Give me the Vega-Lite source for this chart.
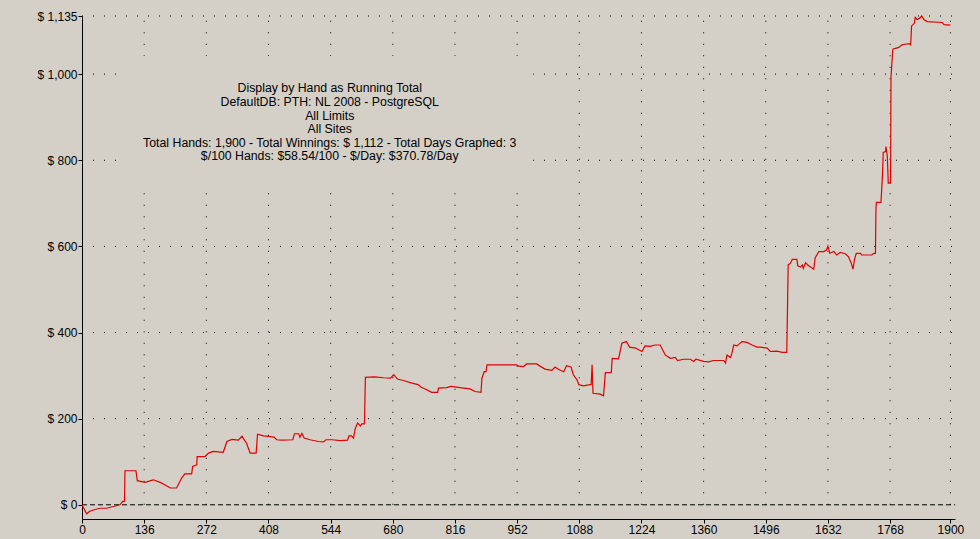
{
  "$schema": "https://vega.github.io/schema/vega-lite/v6.json",
  "autosize": {"type": "none"},
  "padding": {"left": 82, "top": 16, "right": 25, "bottom": 20},
  "width": 873,
  "height": 503,
  "background": "#D4D0C8",
  "config": {
    "view": {"stroke": null},
    "font": "Liberation Sans",
    "axis": {"labelFont": "Liberation Sans", "labelFontSize": 12, "labelColor": "#000000", "domainColor": "#000000", "tickColor": "#000000", "grid": false, "title": null}
  },
  "datasets": {
    "xticks": [{"hand": 136}, {"hand": 272}, {"hand": 408}, {"hand": 544}, {"hand": 680}, {"hand": 816}, {"hand": 952}, {"hand": 1088}, {"hand": 1224}, {"hand": 1360}, {"hand": 1496}, {"hand": 1632}, {"hand": 1768}, {"hand": 1900}],
    "yticks": [{"usd": 200}, {"usd": 400}, {"usd": 600}, {"usd": 800}, {"usd": 1000}, {"usd": 1135}],
    "series": [
      {"hand": 0, "usd": 0}, {"hand": 10, "usd": -21}, {"hand": 17, "usd": -15}, {"hand": 25, "usd": -12}, {"hand": 39, "usd": -8}, {"hand": 54, "usd": -8}, {"hand": 69, "usd": -4}, {"hand": 83, "usd": 0}, {"hand": 89, "usd": 8}, {"hand": 93, "usd": 8}, {"hand": 94, "usd": 79},
      {"hand": 118, "usd": 79}, {"hand": 121, "usd": 56}, {"hand": 138, "usd": 52}, {"hand": 156, "usd": 58}, {"hand": 171, "usd": 52}, {"hand": 182, "usd": 46}, {"hand": 193, "usd": 39}, {"hand": 207, "usd": 39}, {"hand": 218, "usd": 62}, {"hand": 225, "usd": 72}, {"hand": 240, "usd": 72}, {"hand": 242, "usd": 89}, {"hand": 251, "usd": 93}, {"hand": 252, "usd": 112}, {"hand": 269, "usd": 112}, {"hand": 277, "usd": 120}, {"hand": 287, "usd": 124}, {"hand": 309, "usd": 122}, {"hand": 317, "usd": 147}, {"hand": 328, "usd": 152}, {"hand": 342, "usd": 150}, {"hand": 350, "usd": 159}, {"hand": 360, "usd": 143}, {"hand": 368, "usd": 120}, {"hand": 381, "usd": 120}, {"hand": 384, "usd": 164}, {"hand": 397, "usd": 160}, {"hand": 408, "usd": 159}, {"hand": 420, "usd": 157}, {"hand": 426, "usd": 151}, {"hand": 437, "usd": 150}, {"hand": 461, "usd": 151}, {"hand": 465, "usd": 165}, {"hand": 474, "usd": 165}, {"hand": 477, "usd": 157}, {"hand": 481, "usd": 166}, {"hand": 486, "usd": 155}, {"hand": 499, "usd": 151}, {"hand": 517, "usd": 147}, {"hand": 528, "usd": 146}, {"hand": 534, "usd": 151}, {"hand": 547, "usd": 151}, {"hand": 565, "usd": 149}, {"hand": 581, "usd": 150}, {"hand": 584, "usd": 160}, {"hand": 590, "usd": 160}, {"hand": 594, "usd": 155}, {"hand": 598, "usd": 178}, {"hand": 603, "usd": 190}, {"hand": 609, "usd": 183}, {"hand": 612, "usd": 188}, {"hand": 618, "usd": 188},
      {"hand": 620, "usd": 296}, {"hand": 640, "usd": 297}, {"hand": 660, "usd": 295}, {"hand": 675, "usd": 294}, {"hand": 682, "usd": 302}, {"hand": 690, "usd": 292}, {"hand": 705, "usd": 288}, {"hand": 720, "usd": 283}, {"hand": 735, "usd": 279}, {"hand": 742, "usd": 273}, {"hand": 751, "usd": 269}, {"hand": 765, "usd": 261}, {"hand": 778, "usd": 261}, {"hand": 780, "usd": 271}, {"hand": 798, "usd": 272}, {"hand": 807, "usd": 275}, {"hand": 835, "usd": 271}, {"hand": 849, "usd": 269}, {"hand": 860, "usd": 263}, {"hand": 873, "usd": 261}, {"hand": 875, "usd": 294}, {"hand": 880, "usd": 309}, {"hand": 884, "usd": 309}, {"hand": 886, "usd": 325}, {"hand": 900, "usd": 325}, {"hand": 951, "usd": 325}, {"hand": 955, "usd": 322}, {"hand": 966, "usd": 321}, {"hand": 973, "usd": 327}, {"hand": 995, "usd": 327}, {"hand": 1002, "usd": 322}, {"hand": 1013, "usd": 315}, {"hand": 1028, "usd": 312}, {"hand": 1035, "usd": 320}, {"hand": 1043, "usd": 314}, {"hand": 1054, "usd": 309}, {"hand": 1060, "usd": 323}, {"hand": 1070, "usd": 320}, {"hand": 1075, "usd": 302}, {"hand": 1083, "usd": 290}, {"hand": 1087, "usd": 279}, {"hand": 1097, "usd": 276}, {"hand": 1112, "usd": 279}, {"hand": 1114, "usd": 279}, {"hand": 1116, "usd": 325}, {"hand": 1118, "usd": 259}, {"hand": 1134, "usd": 257}, {"hand": 1141, "usd": 253}, {"hand": 1145, "usd": 307}, {"hand": 1158, "usd": 307}, {"hand": 1160, "usd": 340}, {"hand": 1174, "usd": 339}, {"hand": 1181, "usd": 375}, {"hand": 1191, "usd": 379}, {"hand": 1198, "usd": 366}, {"hand": 1211, "usd": 364}, {"hand": 1225, "usd": 356}, {"hand": 1232, "usd": 369}, {"hand": 1243, "usd": 368}, {"hand": 1254, "usd": 371}, {"hand": 1265, "usd": 371}, {"hand": 1276, "usd": 348}, {"hand": 1287, "usd": 340}, {"hand": 1298, "usd": 342}, {"hand": 1303, "usd": 335}, {"hand": 1316, "usd": 338}, {"hand": 1331, "usd": 338}, {"hand": 1338, "usd": 333}, {"hand": 1343, "usd": 338}, {"hand": 1360, "usd": 333}, {"hand": 1371, "usd": 332}, {"hand": 1382, "usd": 335}, {"hand": 1404, "usd": 335}, {"hand": 1408, "usd": 329}, {"hand": 1411, "usd": 348}, {"hand": 1419, "usd": 342}, {"hand": 1422, "usd": 352}, {"hand": 1426, "usd": 371}, {"hand": 1433, "usd": 369}, {"hand": 1444, "usd": 379}, {"hand": 1455, "usd": 377}, {"hand": 1466, "usd": 371}, {"hand": 1477, "usd": 366}, {"hand": 1484, "usd": 366}, {"hand": 1499, "usd": 364}, {"hand": 1506, "usd": 356}, {"hand": 1520, "usd": 357}, {"hand": 1532, "usd": 354}, {"hand": 1542, "usd": 354},
      {"hand": 1545, "usd": 557}, {"hand": 1550, "usd": 561}, {"hand": 1554, "usd": 570}, {"hand": 1564, "usd": 570}, {"hand": 1566, "usd": 555}, {"hand": 1572, "usd": 552}, {"hand": 1576, "usd": 557}, {"hand": 1578, "usd": 549}, {"hand": 1583, "usd": 562}, {"hand": 1590, "usd": 555}, {"hand": 1601, "usd": 547}, {"hand": 1604, "usd": 573}, {"hand": 1612, "usd": 588}, {"hand": 1623, "usd": 588}, {"hand": 1629, "usd": 592}, {"hand": 1632, "usd": 601}, {"hand": 1636, "usd": 584}, {"hand": 1645, "usd": 588}, {"hand": 1651, "usd": 580}, {"hand": 1659, "usd": 586}, {"hand": 1670, "usd": 583}, {"hand": 1677, "usd": 576}, {"hand": 1683, "usd": 561}, {"hand": 1687, "usd": 547}, {"hand": 1690, "usd": 569}, {"hand": 1694, "usd": 584}, {"hand": 1703, "usd": 584}, {"hand": 1706, "usd": 580}, {"hand": 1728, "usd": 580}, {"hand": 1732, "usd": 584}, {"hand": 1736, "usd": 584},
      {"hand": 1737, "usd": 685}, {"hand": 1738, "usd": 702}, {"hand": 1748, "usd": 702}, {"hand": 1751, "usd": 758}, {"hand": 1753, "usd": 818}, {"hand": 1758, "usd": 820}, {"hand": 1759, "usd": 832}, {"hand": 1762, "usd": 808}, {"hand": 1764, "usd": 747}, {"hand": 1769, "usd": 747}, {"hand": 1770, "usd": 994}, {"hand": 1774, "usd": 1058}, {"hand": 1780, "usd": 1060}, {"hand": 1787, "usd": 1062}, {"hand": 1794, "usd": 1068}, {"hand": 1804, "usd": 1070}, {"hand": 1811, "usd": 1071}, {"hand": 1813, "usd": 1068}, {"hand": 1815, "usd": 1112}, {"hand": 1821, "usd": 1118}, {"hand": 1823, "usd": 1132}, {"hand": 1827, "usd": 1127}, {"hand": 1833, "usd": 1130}, {"hand": 1837, "usd": 1135}, {"hand": 1842, "usd": 1127}, {"hand": 1849, "usd": 1122}, {"hand": 1882, "usd": 1120}, {"hand": 1886, "usd": 1115}, {"hand": 1900, "usd": 1114}
    ]
  },
  "layer": [
    {
      "data": {"name": "xticks"},
      "mark": {"type": "rule", "color": "#000000", "strokeWidth": 1, "strokeDash": [1, 10.5]},
      "encoding": {
        "x": {"field": "hand", "type": "quantitative", "scale": {"domain": [0, 1910], "nice": false, "zero": false},
          "axis": {"values": [0, 136, 272, 408, 544, 680, 816, 952, 1088, 1224, 1360, 1496, 1632, 1768, 1900], "tickSize": 4, "labelPadding": 1, "labelFlush": false, "labelOverlap": false, "format": "d"}},
        "y": {"datum": 0, "type": "quantitative", "scale": {"domain": [-33, 1135], "nice": false, "zero": false},
          "axis": {"values": [0, 200, 400, 600, 800, 1000, 1135], "tickSize": 4, "labelPadding": 1, "labelExpr": "'$ ' + format(datum.value, ',')"}},
        "y2": {"datum": 1135}
      }
    },
    {
      "data": {"name": "yticks"},
      "mark": {"type": "rule", "color": "#000000", "strokeWidth": 1, "strokeDash": [1, 10]},
      "encoding": {
        "y": {"field": "usd", "type": "quantitative"},
        "x": {"datum": 0, "type": "quantitative"},
        "x2": {"datum": 1910}
      }
    },
    {
      "data": {"values": [{"usd": 0}]},
      "mark": {"type": "rule", "color": "#000000", "strokeWidth": 1, "strokeDash": [5, 3]},
      "encoding": {
        "y": {"field": "usd", "type": "quantitative"},
        "x": {"datum": 0, "type": "quantitative"},
        "x2": {"datum": 1910}
      }
    },
    {
      "data": {"values": [{"x0": 83, "x1": 987, "y0": 747, "y1": 1042}]},
      "mark": {"type": "rect", "fill": "#D4D0C8", "stroke": null},
      "encoding": {
        "x": {"field": "x0", "type": "quantitative"},
        "x2": {"field": "x1"},
        "y": {"field": "y0", "type": "quantitative"},
        "y2": {"field": "y1"}
      }
    },
    {
      "data": {"values": [{"hand": 542, "usd": 967, "label": "Display by Hand as Running Total\nDefaultDB: PTH: NL 2008 - PostgreSQL\nAll Limits\nAll Sites\nTotal Hands: 1,900 - Total Winnings: $ 1,112 - Total Days Graphed: 3\n$/100 Hands: $58.54/100 - $/Day: $370.78/Day"}]},
      "mark": {"type": "text", "font": "Liberation Sans", "fontSize": 12.3, "color": "#000000", "align": "center", "baseline": "middle", "lineBreak": "\n", "lineHeight": 13.6},
      "encoding": {
        "x": {"field": "hand", "type": "quantitative"},
        "y": {"field": "usd", "type": "quantitative"},
        "text": {"field": "label"}
      }
    },
    {
      "data": {"name": "series"},
      "mark": {"type": "line", "color": "#E00000", "strokeWidth": 1.2, "interpolate": "linear"},
      "encoding": {
        "x": {"field": "hand", "type": "quantitative"},
        "y": {"field": "usd", "type": "quantitative"}
      }
    }
  ]
}
